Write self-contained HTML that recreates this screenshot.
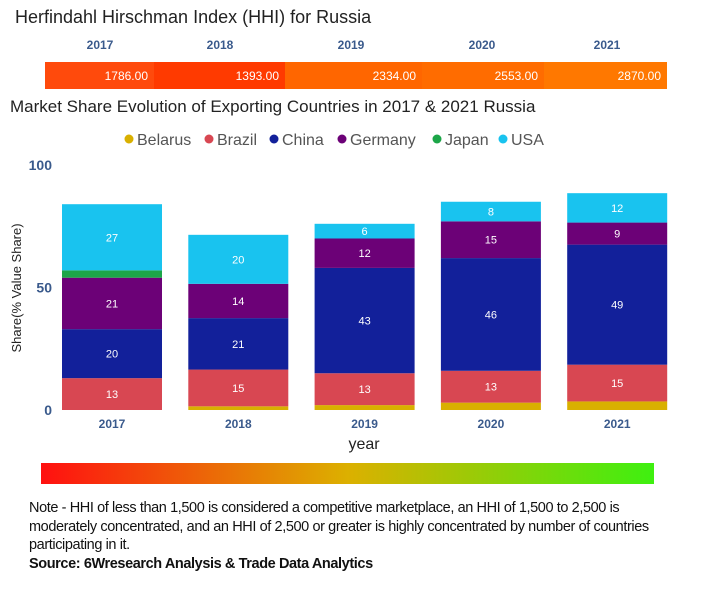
<!DOCTYPE html>
<html><head><meta charset="utf-8"><style>
body{margin:0;width:703px;height:600px;background:#fff;font-family:"Liberation Sans",sans-serif;overflow:hidden;position:relative}
.a{position:absolute;white-space:nowrap}
</style></head><body>
<div class="a" style="left:15px;top:7px;font-size:18px;color:#222">Herfindahl Hirschman Index (HHI) for Russia</div>
<svg class="a" style="left:0;top:0" width="703" height="600">
<defs><linearGradient id="g" x1="0" x2="1"><stop offset="0" stop-color="#ff1010"/><stop offset="0.5" stop-color="#dcb000"/><stop offset="1" stop-color="#3ef010"/></linearGradient></defs>
<g id="hhi"></g>
<text x="10" y="112" font-size="17" fill="#222">Market Share Evolution of Exporting Countries in 2017 &amp; 2021 Russia</text>
<g id="legend"></g>
<g id="axis"></g>
<g id="bars"></g>
<text transform="translate(21,288) rotate(-90)" text-anchor="middle" font-size="13" fill="#222">Share(% Value Share)</text>
<text x="364" y="449" text-anchor="middle" font-size="16" fill="#222">year</text>
<rect x="41" y="463" width="613" height="21" fill="url(#g)"/>
</svg>
<div class="a" style="left:29px;top:499px;font-size:14.5px;line-height:18.5px;color:#111;letter-spacing:-0.4px">Note - HHI of less than 1,500 is considered a competitive marketplace, an HHI of 1,500 to 2,500 is<br>moderately concentrated, and an HHI of 2,500 or greater is highly concentrated by number of countries<br>participating in it.<br><b>Source: 6Wresearch Analysis &amp; Trade Data Analytics</b></div>
<script>
const years=["2017","2018","2019","2020","2021"];
const hhi=[1786,1393,2334,2553,2870];
const series=["Belarus","Brazil","China","Germany","Japan","USA"];
const colors=["#d9b000","#d84752","#12209a","#6c0177","#1ca648","#19c3ef"];
const belarus=[0,1.5,2,3,3.5];
const brazil=[13,15,13,13,15];
const china=[20,21,43,46,49];
const germany=[21,14,12,15,9];
const japan=[3,0,0,0,0];
const usa=[27,20,6,8,12];
const vals=[belarus,brazil,china,germany,japan,usa];
const ticks=[0,50,100];
const NS="http://www.w3.org/2000/svg";
function mk(t,a,p,txt){const e=document.createElementNS(NS,t);for(const k in a)e.setAttribute(k,a[k]);if(txt!=null)e.textContent=txt;p.appendChild(e);return e;}
const y=v=>410-v*2.45;
const x0=62,step=126.3,bw=100;
const xb=i=>x0+i*step;
const hg=document.getElementById('hhi');
const hb=[45,154,285,422,544,667];
const hcol=["#ff4a0c","#ff3a00","#ff6600","#ff6c00","#ff7800"];
const hx=[100,220,351,482,607];
years.forEach((yr,i)=>{
 const r=mk('rect',{x:hb[i],y:62,width:hb[i+1]-hb[i],height:27,fill:hcol[i]},hg);
 
 
 const t=mk('text',{x:hb[i+1]-6,y:80,'text-anchor':'end','font-size':12,fill:'#fff'},hg,hhi[i].toFixed(2));
 
 
 const h=mk('text',{x:hx[i],y:49,'text-anchor':'middle','font-size':12,'font-weight':'bold',fill:'#3a5a8c'},hg,yr);
 
 
});
const lg=document.getElementById('legend');
const lxs=[124,204,269,337,432,498];
series.forEach((s,i)=>{
 const lx=lxs[i];
 const c=mk('circle',{cx:lx+5,cy:139,r:4.5,fill:colors[i]},lg);
 
 
 const t=mk('text',{x:lx+13,y:145,'font-size':16,fill:'#555'},lg,s);
 
 
});
const ax=document.getElementById('axis');
ticks.forEach(v=>{
 const t=mk('text',{x:52,y:y(v)+5,'text-anchor':'end','font-size':14,'font-weight':'bold',fill:'#3a5a8c'},ax,v);
 
 
});
years.forEach((yr,i)=>{
 const t=mk('text',{x:xb(i)+bw/2,y:428,'text-anchor':'middle','font-size':12,'font-weight':'bold',fill:'#3a5a8c'},ax,yr);
 
 
});
const bg=document.getElementById('bars');
years.forEach((yr,i)=>{
 let cum=0;
 vals.forEach((arr,s)=>{
  const v=arr[i]; if(v<=0)return;
  const r=mk('rect',{x:xb(i),y:y(cum+v),width:bw,height:v*2.45,fill:colors[s]},bg);
  
  
  if(v>=5){
   const t=mk('text',{x:xb(i)+bw/2,y:y(cum+v/2)+4,'text-anchor':'middle','font-size':11,fill:'#fff'},bg,Math.round(v));
   
   
  }
  cum+=v;
 });
});
</script>
</body></html>
